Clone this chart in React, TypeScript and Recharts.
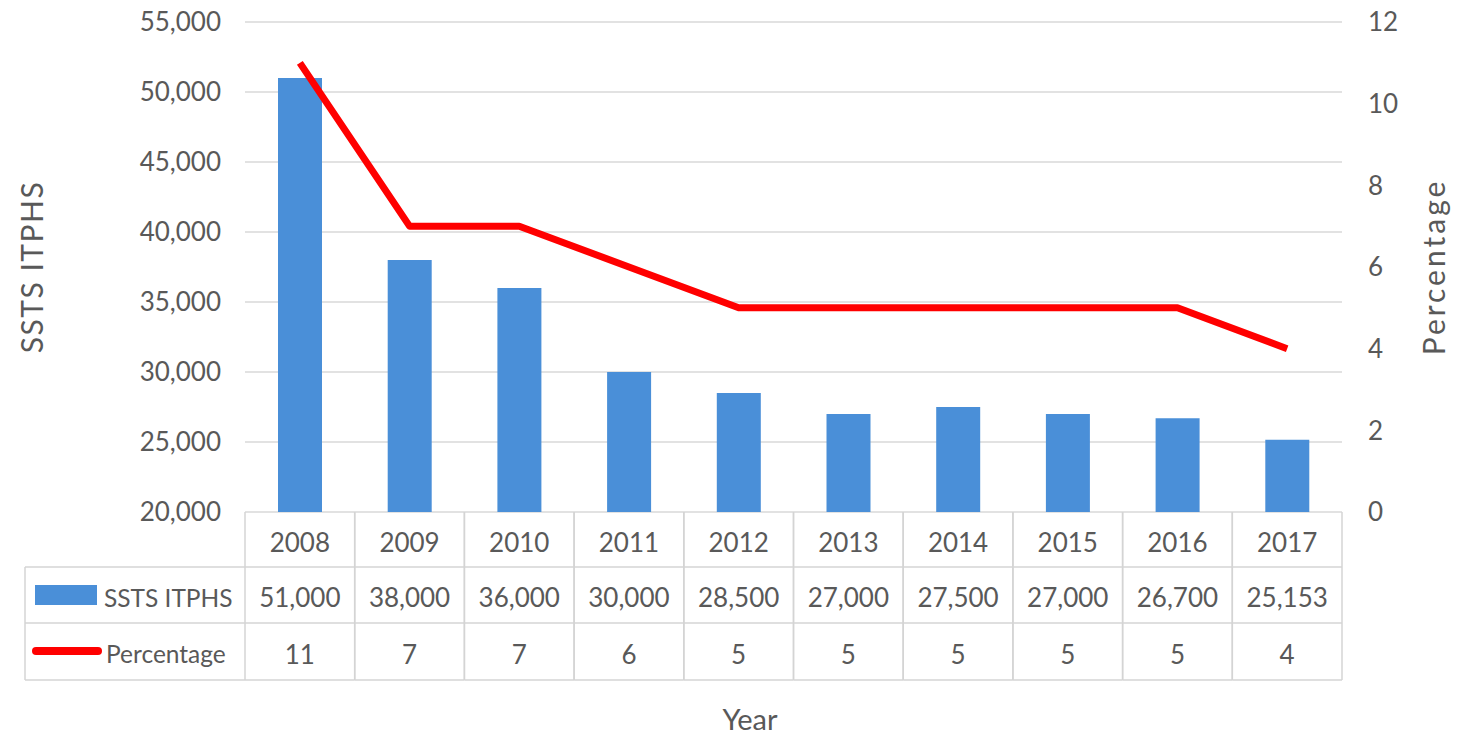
import { Bar, CartesianGrid, ComposedChart, Line, XAxis, YAxis } from "recharts";

const years = ["2008", "2009", "2010", "2011", "2012", "2013", "2014", "2015", "2016", "2017"];
const itphs = [51000, 38000, 36000, 30000, 28500, 27000, 27500, 27000, 26700, 25153];
const percentage = [11, 7, 7, 6, 5, 5, 5, 5, 5, 4];
const leftTicks = [20000, 25000, 30000, 35000, 40000, 45000, 50000, 55000];
const rightTicks = [0, 2, 4, 6, 8, 10, 12];

const data = years.map((year, i) => ({ year, itphs: itphs[i], pct: percentage[i] }));

const W = 1475;
const H = 734;
const PLOT_LEFT = 245;
const PLOT_RIGHT = 1342;
const PLOT_TOP = 22;
const PLOT_BOTTOM = 512;
const BAND = (PLOT_RIGHT - PLOT_LEFT) / years.length;
const ROW1 = 567;
const ROW2 = 623;
const ROW3 = 680;
const TABLE_LEFT = 25;

const FONT = "Lato, 'Open Sans', sans-serif";
const TEXT = "#595959";
const BORDER = "#d4d4d4";
const BLUE = "#4a8fd8";
const RED = "#ff0000";

const fmt = (v: number) => v.toLocaleString("en-US");

const TableTick = (props: any) => {
  const { x, index } = props;
  const l = x - BAND / 2;
  const r = x + BAND / 2;
  const txt = { fontFamily: FONT, fontSize: 26, fill: TEXT, textAnchor: "middle" as const, dominantBaseline: "central" as const };
  return (
    <g>
      <line x1={l} x2={l} y1={PLOT_BOTTOM} y2={ROW3} stroke={BORDER} strokeWidth={1.5} />
      <line x1={r} x2={r} y1={PLOT_BOTTOM} y2={ROW3} stroke={BORDER} strokeWidth={1.5} />
      <line x1={l} x2={r} y1={ROW1} y2={ROW1} stroke={BORDER} strokeWidth={1.5} />
      <line x1={l} x2={r} y1={ROW2} y2={ROW2} stroke={BORDER} strokeWidth={1.5} />
      <line x1={l} x2={r} y1={ROW3} y2={ROW3} stroke={BORDER} strokeWidth={1.5} />
      <text x={x} y={(PLOT_BOTTOM + ROW1) / 2 + 2} {...txt}>{years[index]}</text>
      <text x={x} y={(ROW1 + ROW2) / 2 + 2} {...txt}>{fmt(itphs[index])}</text>
      <text x={x} y={(ROW2 + ROW3) / 2 + 2} {...txt}>{percentage[index]}</text>
      {index === 0 && (
        <g>
          <line x1={TABLE_LEFT} x2={l} y1={ROW1} y2={ROW1} stroke={BORDER} strokeWidth={1.5} />
          <line x1={TABLE_LEFT} x2={l} y1={ROW2} y2={ROW2} stroke={BORDER} strokeWidth={1.5} />
          <line x1={TABLE_LEFT} x2={l} y1={ROW3} y2={ROW3} stroke={BORDER} strokeWidth={1.5} />
          <line x1={TABLE_LEFT} x2={TABLE_LEFT} y1={ROW1} y2={ROW3} stroke={BORDER} strokeWidth={1.5} />
          <rect x={35} y={585} width={62} height={20} fill={BLUE} />
          <text x={104} y={(ROW1 + ROW2) / 2 + 2} {...txt} fontSize={24.5} textAnchor="start">SSTS ITPHS</text>
          <line x1={36} x2={98} y1={651} y2={651} stroke={RED} strokeWidth={8} strokeLinecap="round" />
          <text x={106} y={(ROW2 + ROW3) / 2 + 2} {...txt} fontSize={24.5} textAnchor="start">Percentage</text>
        </g>
      )}
    </g>
  );
};

const SideTitle = (x: number, text: string, spacing: number) => (props: any) => {
  const cy = (PLOT_TOP + PLOT_BOTTOM) / 2;
  return (
    <text
      x={x}
      y={cy}
      transform={`rotate(-90 ${x} ${cy})`}
      textAnchor="middle"
      dominantBaseline="central"
      fontFamily={FONT}
      fontSize={30}
      letterSpacing={spacing}
      fill={TEXT}
    >
      {text}
    </text>
  );
};

const YearTitle = () => (
  <text x={750} y={718} textAnchor="middle" dominantBaseline="central" fontFamily={FONT} fontSize={29} fill={TEXT}>
    Year
  </text>
);

export default function App() {
  return (
    <div style={{ position: "absolute", left: 0, top: 0, width: W, height: H, background: "#fff" }}>
      <ComposedChart
        width={W}
        height={H}
        data={data}
        margin={{ top: PLOT_TOP, right: 0, bottom: 0, left: 0 }}
        barSize={44}
      >
        <CartesianGrid vertical={false} stroke="#d9d9d9" strokeWidth={1.5} yAxisId="left" />
        <XAxis
          dataKey="year"
          height={H - PLOT_BOTTOM}
          axisLine={false}
          tickLine={false}
          tickSize={0}
          tickMargin={0}
          interval={0}
          tick={<TableTick />}
          label={{ content: <YearTitle /> } as any}
        />
        <YAxis
          yAxisId="left"
          width={PLOT_LEFT}
          domain={[20000, 55000]}
          ticks={leftTicks}
          tickFormatter={fmt}
          axisLine={false}
          tickLine={false}
          tickSize={0}
          tickMargin={24}
          tick={{ fontFamily: FONT, fontSize: 26, fill: TEXT }}
          label={{ content: SideTitle(31, "SSTS ITPHS", 1.5) } as any}
        />
        <YAxis
          yAxisId="right"
          orientation="right"
          width={W - PLOT_RIGHT}
          domain={[0, 12]}
          ticks={rightTicks}
          axisLine={false}
          tickLine={false}
          tickSize={0}
          tickMargin={26}
          tick={{ fontFamily: FONT, fontSize: 26, fill: TEXT, textAnchor: "start" }}
          label={{ content: SideTitle(1433, "Percentage", 3) } as any}
        />
        <Bar yAxisId="left" dataKey="itphs" fill={BLUE} isAnimationActive={false} />
        <Line
          yAxisId="right"
          dataKey="pct"
          stroke={RED}
          strokeWidth={7}
          dot={false}
          activeDot={false}
          strokeLinejoin="round"
          isAnimationActive={false}
        />
      </ComposedChart>
    </div>
  );
}
